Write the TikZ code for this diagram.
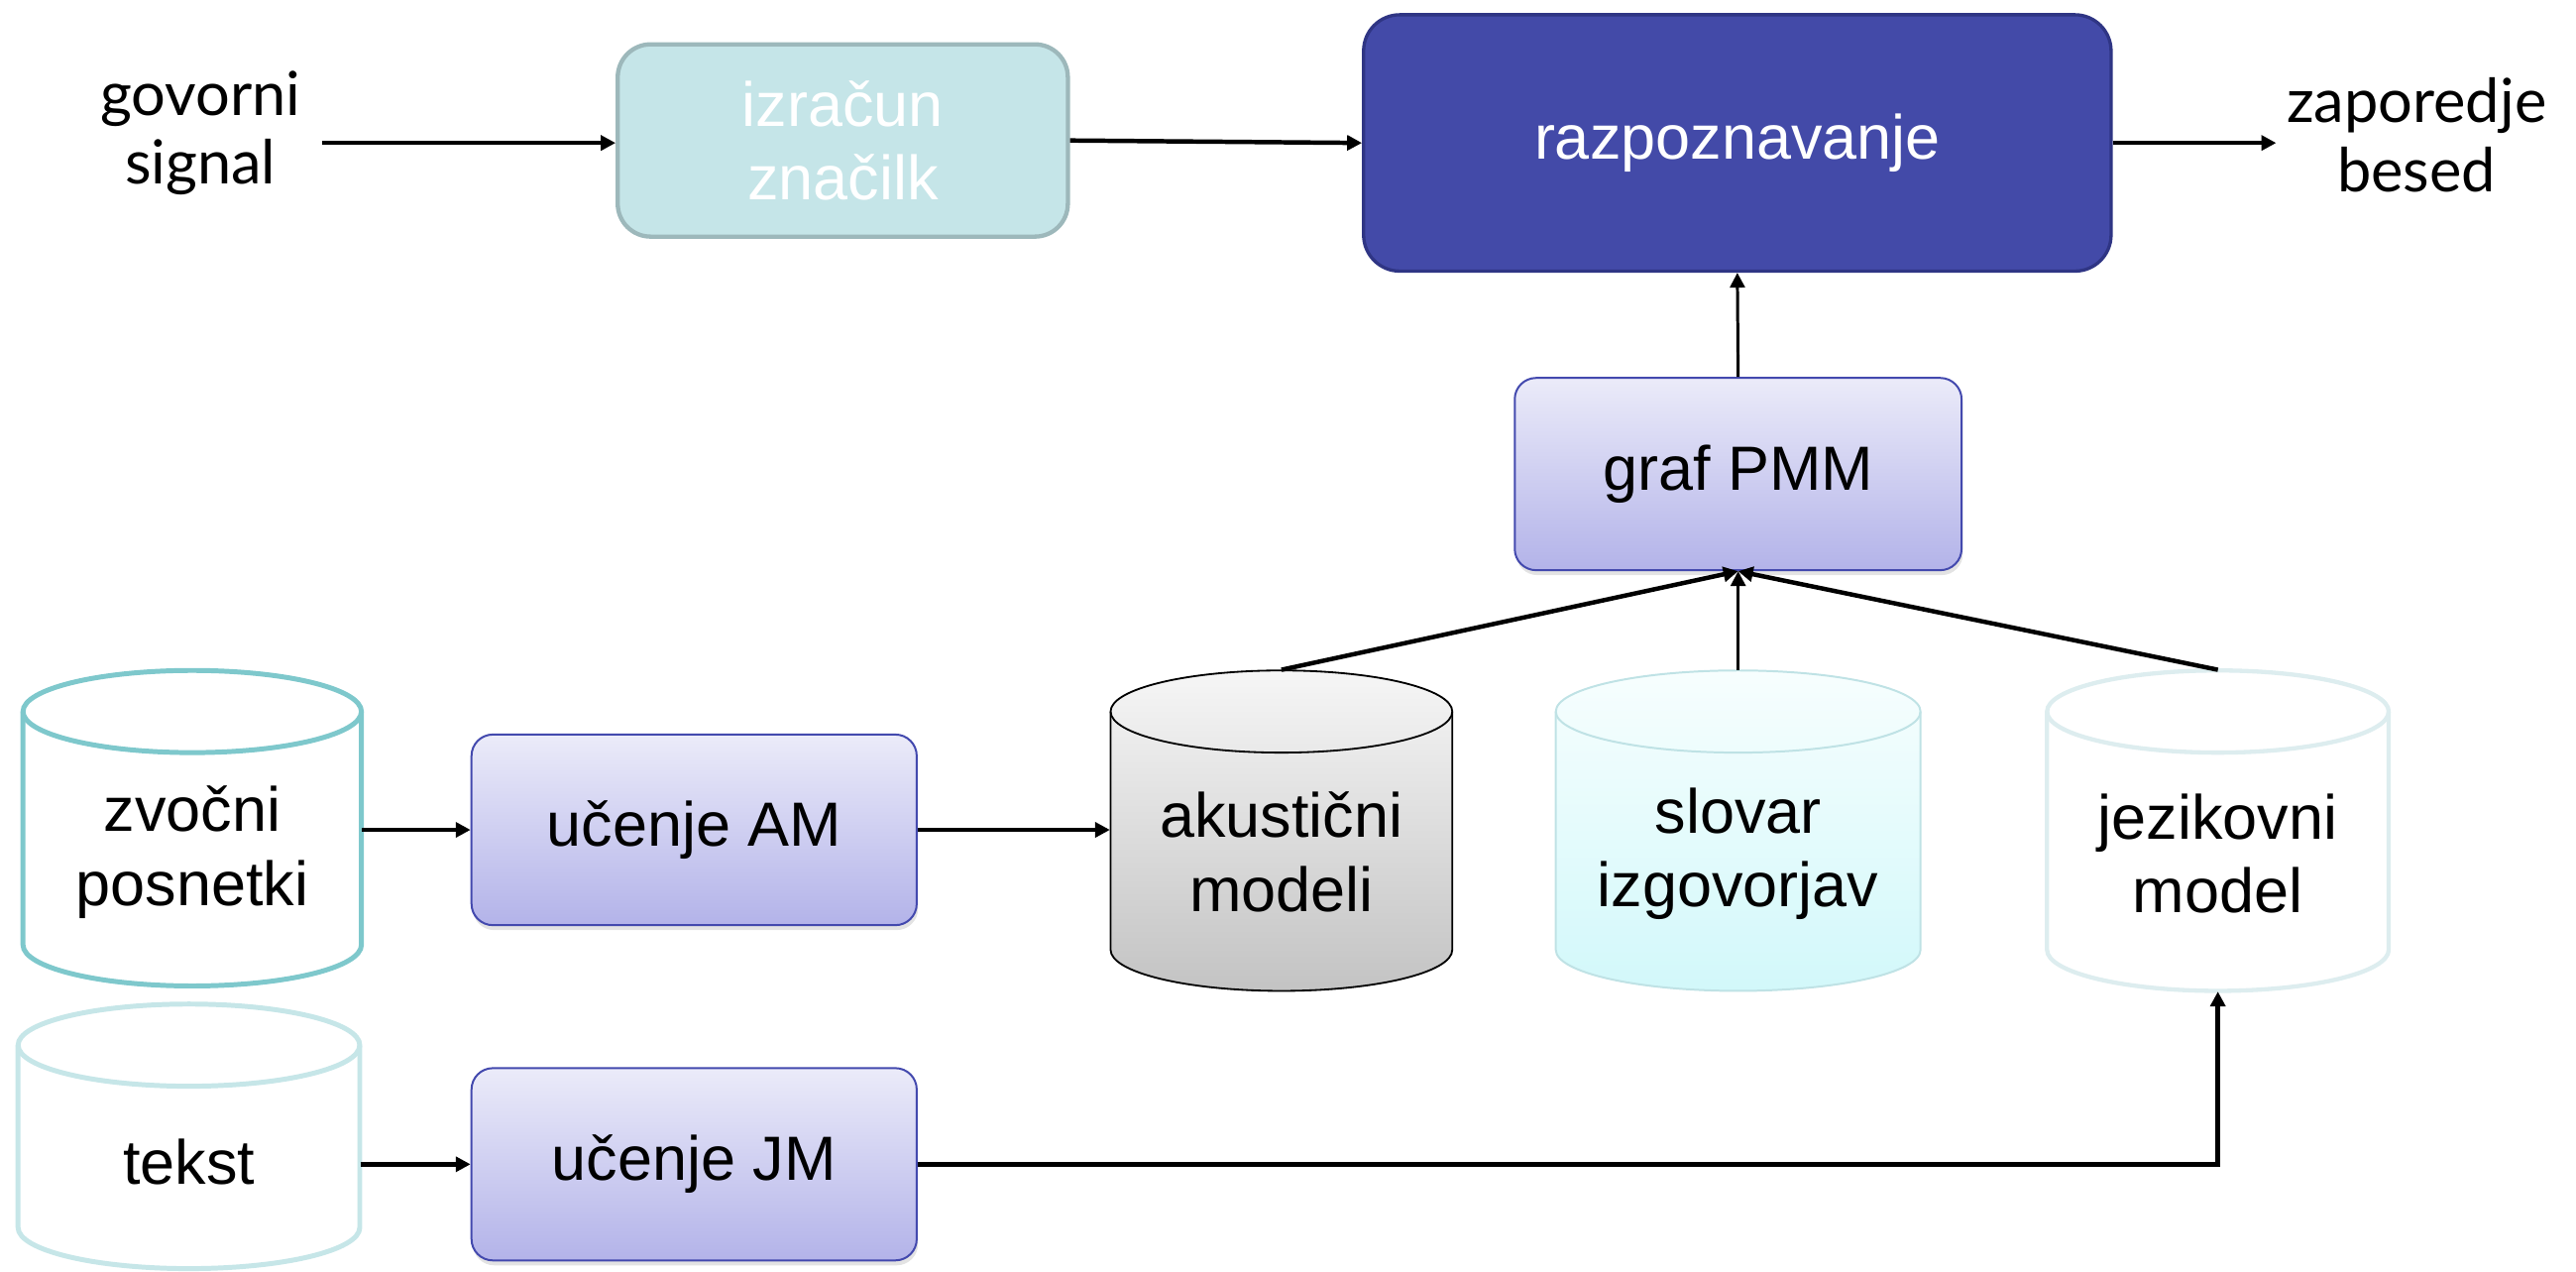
\documentclass[tikz,border=0pt]{standalone}
\usepackage{fontspec}
\setmainfont{Liberation Sans}
\newfontfamily\gillfont{Lato}
\usetikzlibrary{arrows.meta,shadows}
\definecolor{izrfill}{HTML}{C5E5E8}
\definecolor{izrdraw}{HTML}{9DB8BB}
\definecolor{razfill}{HTML}{434AA8}
\definecolor{razdraw}{HTML}{2F3584}
\definecolor{grtop}{HTML}{EBEBF9}
\definecolor{grbot}{HTML}{B3B3E9}
\definecolor{grdraw}{HTML}{4349AE}
\definecolor{zvdraw}{HTML}{7EC8CC}
\definecolor{tkdraw}{HTML}{C6E6E8}
\definecolor{jzdraw}{HTML}{DDEDEF}
\definecolor{sldraw}{HTML}{BFE2E5}
\definecolor{sltop}{HTML}{F7FEFE}
\definecolor{slbot}{HTML}{D2F8FA}
\definecolor{aktop}{HTML}{F6F6F6}
\definecolor{akbot}{HTML}{C3C3C3}
% #1 name #2 cx #3 top #4 bottom #5 rx #6 line style #7 fill style #8 text #9 text y
\newcommand\cylndr[9]{%
  \path[#7,#6,draw] ({#2-#5},{774-#3-25}) -- ({#2-#5},{774-#4+25})
     arc[start angle=180,end angle=360,x radius=#5,y radius=25]
     -- ({#2+#5},{774-#3-25})
     arc[start angle=0,end angle=180,x radius=#5,y radius=25] -- cycle;
  \draw[#6] ({#2-#5},{774-#3-25}) arc[start angle=180,end angle=360,x radius=#5,y radius=25];
  \node[inner sep=0pt, minimum width=#5 pt, minimum height={(#4-#3)*0.5pt}] (#1) at (#2,{774-(#3+#4)/2}) {};
  \node[boxtext] (#1t) at (#2,{774-#9}) {#8};
}
\begin{document}
\begin{tikzpicture}[x=0.5pt,y=0.5pt,
  boxtext/.style={font=\fontsize{19}{22.5}\selectfont, align=center, inner sep=0pt},
  outtext/.style={font=\gillfont\fontsize{18.5}{21}\selectfont, align=center, inner sep=0pt},
  procbox/.style={boxtext, draw=grdraw, line width=0.6pt, rounded corners=6.5pt,
     top color=grtop, bottom color=grbot,
     drop shadow={shadow xshift=0.4pt, shadow yshift=-1.5pt, opacity=0.22}},
  conn/.style={line width=1.35pt, -{Triangle[length=4.5pt,width=4.5pt]}},
  thinconn/.style={conn, line width=0.9pt}
]
\useasboundingbox (0,0) rectangle (1568,774);

% top row
\node[outtext] (gov) at (122,693) {govorni\\signal};
\node[boxtext, text=white, fill=izrfill, draw=izrdraw, line width=1.3pt, rounded corners=10pt,
  minimum width=137pt, minimum height=58.5pt] (izr) at (513,688.5) {izračun\\značilk};
\node[boxtext, text=white, fill=razfill, draw=razdraw, line width=1pt, rounded corners=11pt,
  minimum width=227.5pt, minimum height=78pt] (razp) at (1057.5,687) {\raisebox{-2pt}{razpoznavanje}};
\node[outtext] (zap) at (1471,692) {zaporedje\\besed};

% middle
\node[procbox, minimum width=136pt, minimum height=58.5pt] (pmm) at (1058,485.5) {graf PMM};
\node[procbox, minimum width=135.5pt, minimum height=58pt] (am) at (422.5,269) {učenje AM};
\node[procbox, minimum width=135.5pt, minimum height=58.5pt] (jm) at (422.5,65.5) {učenje JM};

% cylinders
\cylndr{zv}{117}{408}{600}{103}{draw=zvdraw,line width=1.5pt}{fill=white}{zvočni\\posnetki}{518.5}
\cylndr{tk}{115}{611}{772}{104}{draw=tkdraw,line width=1.5pt}{fill=white}{tekst}{707}
\cylndr{ak}{780}{408}{603}{104}{draw=black,line width=0.55pt}{top color=aktop,bottom color=akbot}{akustični\\modeli}{518.5}
\cylndr{sl}{1058}{408}{603}{111}{draw=sldraw,line width=0.6pt}{top color=sltop,bottom color=slbot}{slovar\\izgovorjav}{519.5}
\cylndr{jz}{1350}{408}{603}{104}{draw=jzdraw,line width=1.3pt}{fill=white}{jezikovni\\model}{519.5}

% connectors
\coordinate (gs) at (196,687);
\draw[conn] (gs) -- (izr.west |- gs);
\draw[conn] (izr.east) -- (razp.west);
\draw[conn] (razp.east) -- ([xshift=-3pt]zap.west |- razp.east);
\draw[thinconn] (pmm.north) -- (razp.south);
\draw[conn] (ak.north) -- (pmm.south);
\draw[thinconn] (sl.north) -- (pmm.south);
\draw[conn] (jz.north) -- (pmm.south);
\draw[conn] (zv.east |- am.west) -- (am.west);
\draw[conn] (am.east) -- (ak.west |- am.east);
\draw[conn] (tk.east |- jm.west) -- (jm.west);
\draw[conn] (jm.east) -| (jz.south);
\end{tikzpicture}
\end{document}
